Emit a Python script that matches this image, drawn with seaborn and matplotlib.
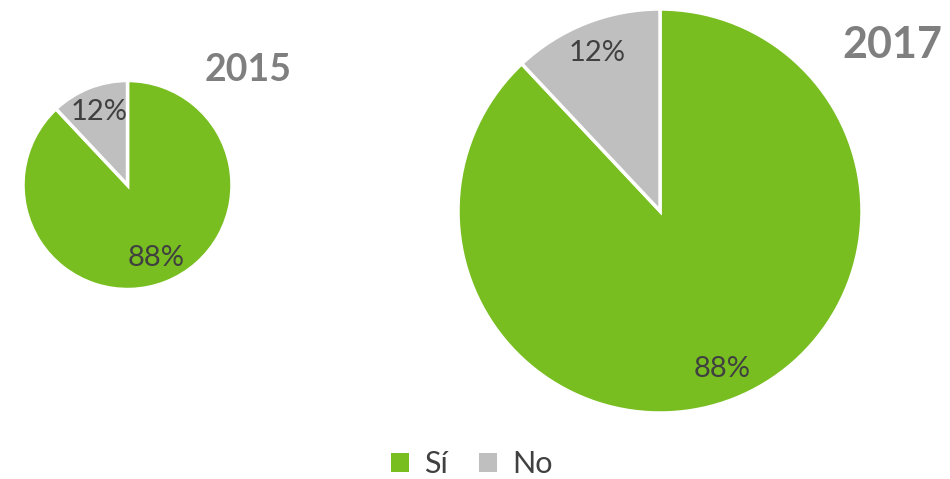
import matplotlib
matplotlib.use("Agg")
import matplotlib.pyplot as plt
from matplotlib.patches import Patch
import seaborn as sns

categories = ["Sí", "No"]
values_2015 = [88, 12]
values_2017 = [88, 12]
years = ["2015", "2017"]

colors = ["#78BE20", "#BFBFBF"]
text_color = "#404040"

sns.set_theme(style="white")
plt.rcParams["font.family"] = ["Lato", "DejaVu Sans"]

W, H = 950, 479
fig = plt.figure(figsize=(W / 100, H / 100), dpi=100)


def px_axes(cx, cy, r):
    # pie axes placed by pixel centre / radius (y from top)
    return fig.add_axes([(cx - r) / W, (H - cy - r) / H, 2 * r / W, 2 * r / H])


def draw_pie(ax, vals, pctdist, fs):
    wedges, _, autotexts = ax.pie(
        vals, colors=colors, startangle=90, counterclock=False,
        autopct="%1.0f%%", pctdistance=pctdist, radius=1,
        wedgeprops=dict(edgecolor="white", linewidth=2.5),
        textprops=dict(color=text_color, fontsize=fs))
    ax.set_xlim(-1, 1)
    ax.set_ylim(-1, 1)
    ax.set_aspect("equal")
    ax.axis("off")
    return wedges


ax1 = px_axes(127.5, 185, 104.5)
wedges = draw_pie(ax1, values_2015, 0.75, 21)

ax2 = px_axes(660, 211, 202)
draw_pie(ax2, values_2017, 0.84, 21)

fig.text(248 / W, 1 - 70 / H, years[0], ha="center", va="center",
         fontsize=27, fontweight="bold", color="#7F7F7F")
fig.text(892 / W, 1 - 45 / H, years[1], ha="center", va="center",
         fontsize=31, fontweight="bold", color="#7F7F7F")

handles = [Patch(facecolor=c, edgecolor="none", label=l) for c, l in zip(colors, categories)]
fig.legend(handles=handles, loc="center", bbox_to_anchor=(472 / W, 1 - 464 / H),
           ncol=2, frameon=False, fontsize=22, handlelength=0.6, handleheight=0.6,
           handletextpad=0.5, columnspacing=1.0, labelcolor=text_color)

fig.savefig("out.png", dpi=100, facecolor="white")
